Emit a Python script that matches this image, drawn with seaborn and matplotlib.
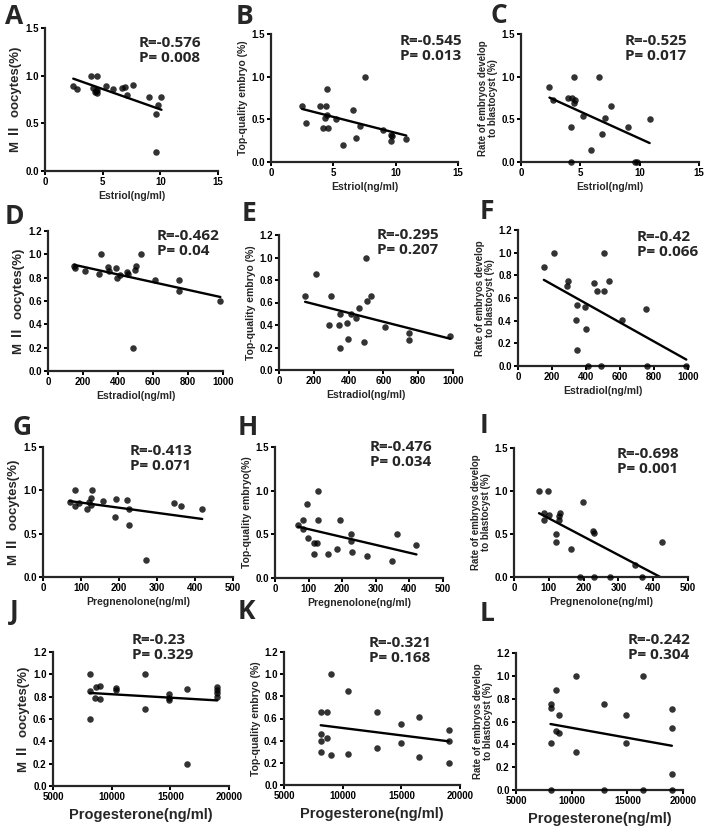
#
# Steroid levels vs embryo outcomes, 4x3 scatter + linear fit
#

import matplotlib
matplotlib.use('Agg')
import matplotlib.pyplot as plt
from matplotlib.ticker import FormatStrFormatter
import pandas as pd
import seaborn as sns

#%%

# Row 1: Estriol
estriol_a = [2.45, 2.8, 3.95, 4.47, 4.2, 4.3, 4.5, 4.5, 4.4, 5.3, 5.9, 6.65, 6.9, 7.1, 7.6, 9.0, 9.6, 9.8, 9.65, 10.1]
mii_a = [0.89, 0.86, 1.0, 1.0, 0.87, 0.83, 0.85, 0.82, 0.84, 0.89, 0.86, 0.87, 0.88, 0.80, 0.90, 0.78, 0.60, 0.69, 0.20, 0.78]

estriol_b = [2.5, 2.8, 3.9, 4.2, 4.35, 4.4, 4.5, 4.5, 4.55, 5.25, 5.8, 6.6, 6.8, 7.1, 7.5, 9.0, 9.6, 9.6, 9.7, 10.85]
top_b = [0.66, 0.46, 0.66, 0.40, 0.52, 0.66, 0.85, 0.55, 0.40, 0.50, 0.20, 0.61, 0.28, 0.42, 1.0, 0.38, 0.32, 0.25, 0.30, 0.27]

estriol_c = [2.4, 2.7, 4.0, 4.2, 4.2, 4.3, 4.5, 4.5, 4.55, 5.25, 5.9, 6.6, 6.85, 7.1, 7.55, 9.0, 9.6, 9.8, 10.84]
blast_c = [0.875, 0.73, 0.75, 0.0, 0.41, 0.75, 1.0, 0.69, 0.73, 0.54, 0.14, 1.0, 0.33, 0.52, 0.66, 0.41, 0.0, 0.0, 0.50]

# Row 2: Estradiol
estradiol_d = [150, 152, 210, 290, 300, 345, 350, 390, 395, 410, 450, 455, 495, 500, 530, 485, 610, 750, 750, 985]
mii_d = [0.90, 0.88, 0.86, 0.83, 1.0, 0.89, 0.86, 0.88, 0.80, 0.82, 0.85, 0.83, 0.87, 0.90, 1.0, 0.20, 0.78, 0.78, 0.69, 0.60]

estradiol_e = [150, 210, 288, 300, 345, 350, 350, 392, 395, 415, 445, 460, 487, 500, 503, 530, 607, 748, 748, 985]
top_e = [0.66, 0.85, 0.40, 0.66, 0.40, 0.50, 0.20, 0.42, 0.28, 0.50, 0.46, 0.55, 0.25, 1.0, 0.61, 0.66, 0.38, 0.33, 0.27, 0.30]

estradiol_f = [152, 213, 289, 295, 348, 344, 348, 394, 398, 413, 449, 463, 486, 506, 506, 535, 614, 754, 758, 990]
blast_f = [0.875, 1.0, 0.71, 0.75, 0.54, 0.41, 0.14, 0.52, 0.33, 0.0, 0.73, 0.66, 0.0, 1.0, 0.66, 0.75, 0.41, 0.50, 0.0, 0.0]

# Row 3: Pregnenolone
preg_g = [70, 83, 83, 96, 116, 121, 125, 129, 127, 158, 189, 193, 222, 226, 226, 272, 344, 364, 419]
mii_g = [0.87, 1.0, 0.82, 0.85, 0.78, 0.87, 0.91, 1.0, 0.83, 0.88, 0.69, 0.90, 0.89, 0.79, 0.60, 0.20, 0.85, 0.82, 0.78]

preg_h = [69, 82, 84, 94, 99, 117, 126, 116, 127, 129, 158, 185, 193, 225, 225, 228, 274, 347, 363, 421]
top_h = [0.61, 0.66, 0.56, 0.85, 0.46, 0.40, 0.40, 0.27, 1.0, 0.66, 0.28, 0.33, 0.66, 0.50, 0.42, 0.30, 0.25, 0.20, 0.50, 0.38]

preg_i = [72, 86, 86, 98, 101, 120, 120, 130, 132, 130, 163, 197, 189, 228, 230, 230, 277, 349, 367, 424]
blast_i = [1.0, 0.75, 0.66, 1.0, 0.72, 0.50, 0.41, 0.71, 0.75, 0.66, 0.33, 0.875, 0.0, 0.54, 0.51, 0.0, 0.0, 0.14, 0.0, 0.41]

# Row 4: Progesterone
prog_j = [8125, 8125, 8125, 8600, 8660, 9030, 9030, 10400, 10400, 12800, 12800, 14900, 14900, 14900, 16400, 16400, 19000, 19000, 19000, 19000]
mii_j = [1.0, 0.85, 0.60, 0.79, 0.89, 0.90, 0.78, 0.88, 0.86, 1.0, 0.69, 0.82, 0.79, 0.77, 0.87, 0.20, 0.89, 0.86, 0.83, 0.80]

prog_k = [8130, 8130, 8130, 8130, 8670, 8670, 8990, 8990, 10470, 10470, 12890, 12890, 14970, 14970, 16480, 16480, 19040, 19040, 19040]
top_k = [0.66, 0.46, 0.40, 0.30, 0.66, 0.42, 1.0, 0.27, 0.85, 0.28, 0.66, 0.33, 0.55, 0.38, 0.61, 0.25, 0.50, 0.40, 0.20]

prog_l = [8100, 8100, 8100, 8100, 8600, 8600, 8900, 8900, 10400, 10400, 12900, 12900, 14900, 14900, 16400, 16400, 19000, 19000, 19000, 19000]
blast_l = [0.75, 0.72, 0.41, 0.0, 0.875, 0.52, 0.66, 0.50, 1.0, 0.33, 0.75, 0.0, 0.66, 0.41, 1.0, 0.0, 0.71, 0.54, 0.14, 0.0]

r_values = ['-0.576', '-0.545', '-0.525', '-0.462', '-0.295', '-0.42',
            '-0.413', '-0.476', '-0.698', '-0.23', '-0.321', '-0.242']
p_values = ['0.008', '0.013', '0.017', '0.04', '0.207', '0.066',
            '0.071', '0.034', '0.001', '0.329', '0.168', '0.304']
letters = list('ABCDEFGHIJKL')

ylab_mii = 'M \u2161  oocytes(%)'
ylab_top = 'Top-quality embryo (%)'
ylab_blast = 'Rate of embryos develop\nto blastocyst (%)'

#%%

sns.set_style('ticks')
plt.rcParams['font.family'] = ['Liberation Sans', 'Noto Sans CJK SC', 'DejaVu Sans']
plt.rcParams['font.weight'] = 'bold'
plt.rcParams['axes.labelweight'] = 'bold'
plt.rcParams['axes.linewidth'] = 1.6
plt.rcParams['xtick.major.width'] = 1.4
plt.rcParams['ytick.major.width'] = 1.4
plt.rcParams['xtick.major.size'] = 3
plt.rcParams['ytick.major.size'] = 3
plt.rcParams['xtick.color'] = 'black'
plt.rcParams['ytick.color'] = 'black'

W, H = 709, 834
fig = plt.figure(figsize=(W / 100, H / 100), dpi=100)

# axes boxes in pixels: left, top, right, bottom
boxes = [(45, 28, 218, 171), (271, 34, 458, 162), (521, 34, 699, 162),
         (48, 231, 223, 371), (279, 235, 453, 370), (518, 230, 688, 366),
         (43, 447, 233, 577), (275, 447, 443, 578), (514, 448, 688, 577),
         (53, 652, 229, 786), (284, 652, 460, 785), (516, 653, 683, 790)]
letter_pos = [(5, 3), (236, 3), (490, 2), (5, 203), (242, 200), (480, 198),
              (12, 414), (238, 414), (480, 412), (10, 598), (238, 598), (480, 600)]
stat_pos = [(139, 36), (400, 34), (625, 34), (157, 229), (377, 228), (637, 230),
            (130, 444), (370, 440), (617, 447), (132, 633), (369, 636), (628, 633)]

data = [(estriol_a, mii_a), (estriol_b, top_b), (estriol_c, blast_c),
        (estradiol_d, mii_d), (estradiol_e, top_e), (estradiol_f, blast_f),
        (preg_g, mii_g), (preg_h, top_h), (preg_i, blast_i),
        (prog_j, mii_j), (prog_k, top_k), (prog_l, blast_l)]

row_x = [('Estriol(ng/ml)', (0, 15), [0, 5, 10, 15]),
         ('Estradiol(ng/ml)', (0, 1000), [0, 200, 400, 600, 800, 1000]),
         ('Pregnenolone(ng/ml)', (0, 500), [0, 100, 200, 300, 400, 500]),
         ('Progesterone(ng/ml)', (5000, 20000), [5000, 10000, 15000, 20000])]
row_y = [((0, 1.5), [0, 0.5, 1.0, 1.5]),
         ((0, 1.2), [0, 0.2, 0.4, 0.6, 0.8, 1.0, 1.2]),
         ((0, 1.5), [0, 0.5, 1.0, 1.5]),
         ((0, 1.2), [0, 0.2, 0.4, 0.6, 0.8, 1.0, 1.2])]
col_ylab = [ylab_mii, ylab_top, ylab_blast]

for i, (xs, ys) in enumerate(data):
    row, col = divmod(i, 3)
    l, t, r, b = boxes[i]
    ax = fig.add_axes([l / W, 1 - b / H, (r - l) / W, (b - t) / H])
    df = pd.DataFrame({'x': xs, 'y': ys})
    sns.regplot(data=df, x='x', y='y', ax=ax, ci=None, color='black',
                scatter_kws=dict(s=22, clip_on=False, zorder=3, linewidths=0),
                line_kws=dict(lw=1.7))

    xlabel, xlim, xticks = row_x[row]
    ylim, yticks = row_y[row]
    ax.set_xlim(xlim)
    ax.set_ylim(ylim)
    ax.set_xticks(xticks)
    ax.set_yticks(yticks)
    ax.yaxis.set_major_formatter(FormatStrFormatter('%.1f'))
    ax.xaxis.set_major_formatter(FormatStrFormatter('%d'))
    ax.tick_params(labelsize=7, pad=1.5)
    sns.despine(ax=ax)

    ylab = col_ylab[col]
    if i == 7:
        ylab = 'Top-quality embryo(%)'
    ysize = {0: 9.5, 1: 7.5, 2: 7}[col]
    ax.set_ylabel(ylab, fontsize=ysize, labelpad=2, linespacing=1.0)
    xsize = 10.5 if row == 3 else 7.5
    ax.set_xlabel(xlabel, fontsize=xsize, labelpad=4 if row == 3 else 3)

    lx, ly = letter_pos[i]
    fig.text(lx / W, 1 - ly / H, letters[i], fontsize=19, fontweight='bold',
             family=['Open Sans'], va='top', ha='left')
    sx, sy = stat_pos[i]
    fig.text(sx / W, 1 - sy / H, 'R=' + r_values[i] + '\nP= ' + p_values[i],
             fontsize=11, fontweight='bold', family=['Open Sans'],
             va='top', ha='left', linespacing=1.1)

fig.savefig('out.png', dpi=100)
